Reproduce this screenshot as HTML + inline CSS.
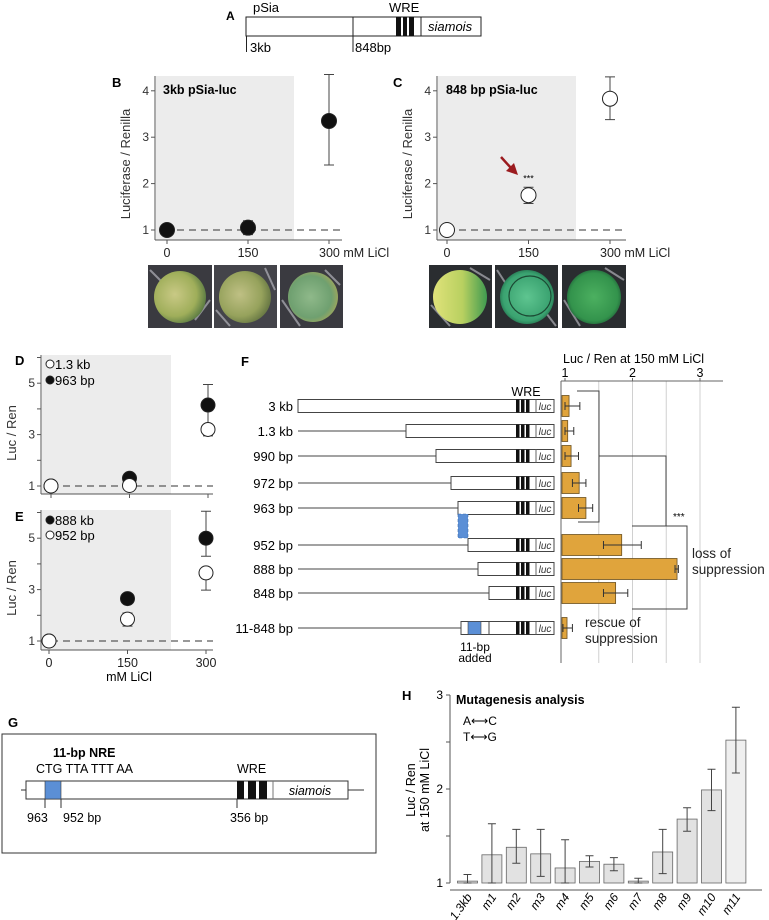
<!DOCTYPE html>
<html><head><meta charset="utf-8">
<style>
html,body{margin:0;padding:0;background:#fff;}
svg{display:block;font-family:"Liberation Sans",sans-serif;}
</style></head>
<body>
<svg id="fig" width="769" height="920" viewBox="0 0 769 920" xmlns="http://www.w3.org/2000/svg">
<defs>
<radialGradient id="eggB1" cx="40%" cy="45%" r="60%"><stop offset="0" stop-color="#c9c985"/><stop offset="0.7" stop-color="#9fae5a"/><stop offset="1" stop-color="#5f7e44"/></radialGradient>
<radialGradient id="eggB2" cx="40%" cy="45%" r="60%"><stop offset="0" stop-color="#bfc084"/><stop offset="0.7" stop-color="#96a25c"/><stop offset="1" stop-color="#6a7a45"/></radialGradient>
<radialGradient id="eggB3" cx="45%" cy="50%" r="60%"><stop offset="0" stop-color="#8fb98a"/><stop offset="0.7" stop-color="#6fa070"/><stop offset="1" stop-color="#a8a858"/></radialGradient>
<linearGradient id="eggC1" x1="0" y1="0" x2="1" y2="0"><stop offset="0" stop-color="#e0e27a"/><stop offset="0.55" stop-color="#b8d060"/><stop offset="1" stop-color="#3f9a50"/></linearGradient>
<radialGradient id="eggC2" cx="50%" cy="50%" r="55%"><stop offset="0" stop-color="#5ec590"/><stop offset="0.8" stop-color="#3aa270"/><stop offset="1" stop-color="#1f6a48"/></radialGradient>
<radialGradient id="eggC3" cx="50%" cy="50%" r="55%"><stop offset="0" stop-color="#4cb060"/><stop offset="0.8" stop-color="#33934c"/><stop offset="1" stop-color="#1f5f38"/></radialGradient>
</defs>

<!-- Panel A -->
<g>
<text x="226" y="20" font-size="12" font-weight="bold">A</text>
<text x="253" y="12" font-size="13">pSia</text>
<text x="389" y="12" font-size="13">WRE</text>
<rect x="246" y="17" width="235" height="19" fill="#fff" stroke="#222" stroke-width="1"/>
<line x1="353" y1="17" x2="353" y2="52" stroke="#222"/>
<line x1="246.5" y1="36" x2="246.5" y2="52" stroke="#222"/>
<rect x="396" y="17" width="5" height="19" fill="#111"/><rect x="403" y="17" width="4" height="19" fill="#111"/><rect x="409" y="17" width="5" height="19" fill="#111"/>
<line x1="421" y1="17" x2="421" y2="36" stroke="#222"/>
<text x="428" y="31" font-size="13" font-style="italic">siamois</text>
<text x="250" y="52" font-size="13">3kb</text>
<text x="355" y="52" font-size="13">848bp</text>
</g>

<text x="112" y="87" font-size="13" font-weight="bold">B</text>
<text x="393" y="87" font-size="13" font-weight="bold">C</text>
<text x="15" y="365" font-size="13" font-weight="bold">D</text>
<text x="15" y="521" font-size="13" font-weight="bold">E</text>
<text x="241" y="366" font-size="13" font-weight="bold">F</text>
<text x="8" y="727" font-size="13" font-weight="bold">G</text>
<text x="402" y="700" font-size="13" font-weight="bold">H</text>

<!-- Photos -->
<g>
<rect x="148" y="265" width="64" height="63" fill="#3a3a40"/>
<rect x="214" y="265" width="63" height="63" fill="#44444a"/>
<rect x="280" y="265" width="63" height="63" fill="#3a3a40"/>
<rect x="429" y="265" width="63" height="63" fill="#2a2d30"/>
<rect x="495" y="265" width="63" height="63" fill="#2a2d30"/>
<rect x="562" y="265" width="64" height="63" fill="#2a2d30"/>
<g stroke="#c8c8d0" stroke-width="2" opacity="0.6">
<line x1="150" y1="270" x2="165" y2="285"/><line x1="195" y1="320" x2="210" y2="300"/><line x1="216" y1="310" x2="230" y2="326"/><line x1="265" y1="268" x2="275" y2="290"/><line x1="282" y1="300" x2="300" y2="326"/><line x1="325" y1="270" x2="340" y2="285"/>
<line x1="431" y1="305" x2="450" y2="326"/><line x1="470" y1="268" x2="490" y2="280"/><line x1="497" y1="270" x2="510" y2="290"/><line x1="540" y1="305" x2="556" y2="326"/><line x1="564" y1="300" x2="580" y2="326"/><line x1="605" y1="268" x2="624" y2="280"/>
</g>
<ellipse cx="180" cy="297" rx="26" ry="26" fill="url(#eggB1)"/>
<ellipse cx="245" cy="297" rx="26" ry="26" fill="url(#eggB2)"/>
<ellipse cx="313" cy="297" rx="25" ry="25" fill="url(#eggB3)"/>
<ellipse cx="460" cy="297" rx="27" ry="27" fill="url(#eggC1)"/>
<ellipse cx="527" cy="297" rx="27" ry="27" fill="url(#eggC2)"/>
<ellipse cx="530" cy="296" rx="21" ry="20" fill="none" stroke="#1c4a34" stroke-width="1.2"/>
<ellipse cx="594" cy="297" rx="27" ry="27" fill="url(#eggC3)"/>
</g>

<text x="563" y="363" font-size="12.5">Luc / Ren at 150 mM LiCl</text>

<!-- Panel G -->
<g>
<rect x="2" y="734" width="374" height="119" fill="#fff" stroke="#333"/>
<text x="53" y="757" font-size="12.5" font-weight="bold">11-bp NRE</text>
<text x="36" y="773" font-size="12.5">CTG TTA TTT AA</text>
<text x="237" y="773" font-size="12.5">WRE</text>
<line x1="21" y1="790" x2="26" y2="790" stroke="#333"/><line x1="348" y1="790" x2="364" y2="790" stroke="#333"/>
<rect x="26" y="781" width="322" height="18" fill="#fff" stroke="#333"/>
<rect x="45" y="781" width="16" height="18" fill="#5b8fd6" stroke="#333" stroke-width="0.6"/>
<rect x="237" y="781" width="7" height="18" fill="#111"/><rect x="248" y="781" width="8" height="18" fill="#111"/><rect x="259" y="781" width="8" height="18" fill="#111"/>
<line x1="273" y1="781" x2="273" y2="799" stroke="#777"/>
<text x="310" y="795" font-size="12.5" font-style="italic" text-anchor="middle">siamois</text>
<line x1="45" y1="799" x2="45" y2="808" stroke="#333"/><line x1="61" y1="799" x2="61" y2="808" stroke="#333"/><line x1="237" y1="799" x2="237" y2="808" stroke="#333"/>
<text x="27" y="822" font-size="12.5">963</text>
<text x="63" y="822" font-size="12.5">952 bp</text>
<text x="230" y="822" font-size="12.5">356 bp</text>
</g>

<g id="dyn"></g>
</svg>

<script>
const doseLevels = [0, 150, 300];
const bMeans = [1.0, 1.05, 3.35];
const bLow   = [1.0, 0.9, 2.4];
const bHigh  = [1.0, 1.2, 4.35];
const cMeans = [1.0, 1.75, 3.83];
const cLow   = [1.0, 1.57, 3.38];
const cHigh  = [1.0, 1.92, 4.3];
const dOpenMeans = [1.0, 1.02, 3.2];
const dOpenLow   = [1.0, 1.02, 2.95];
const dOpenHigh  = [1.0, 1.02, 3.4];
const dFillMeans = [1.0, 1.3, 4.15];
const dFillLow   = [1.0, 1.3, 3.4];
const dFillHigh  = [1.0, 1.3, 4.95];
const eFillMeans = [1.0, 2.65, 5.0];
const eFillLow   = [1.0, 2.65, 4.3];
const eFillHigh  = [1.0, 2.65, 6.05];
const eOpenMeans = [1.0, 1.85, 3.65];
const eOpenLow   = [1.0, 1.58, 2.98];
const eOpenHigh  = [1.0, 2.09, 3.84];
const fLabels = ["3 kb", "1.3 kb", "990 bp", "972 bp", "963 bp", "952 bp", "888 bp", "848 bp", "11-848 bp"];
const fMeans  = [1.06, 1.04, 1.09, 1.21, 1.31, 1.84, 2.66, 1.75, 1.03];
const fLow    = [1.0, 1.0, 1.0, 1.11, 1.2, 1.57, 2.63, 1.57, 0.97];
const fHigh   = [1.22, 1.13, 1.2, 1.31, 1.41, 2.13, 2.68, 1.93, 1.11];
const fTicks  = [1, 2, 3];
const hLabels = ["1.3kb", "m1", "m2", "m3", "m4", "m5", "m6", "m7", "m8", "m9", "m10", "m11"];
const hMeans  = [1.02, 1.3, 1.38, 1.31, 1.16, 1.23, 1.2, 1.02, 1.33, 1.68, 1.99, 2.52];
const hLow    = [1.0, 1.0, 1.21, 1.07, 1.0, 1.17, 1.13, 1.0, 1.1, 1.55, 1.77, 2.17];
const hHigh   = [1.09, 1.63, 1.57, 1.57, 1.46, 1.29, 1.27, 1.05, 1.57, 1.8, 2.21, 2.87];
const hTicks  = [1, 2, 3];

const NS = "http://www.w3.org/2000/svg";
const root = document.getElementById('dyn');
function mk(tag, attrs, parent) {
  const e = document.createElementNS(NS, tag);
  for (const k in attrs) e.setAttribute(k, attrs[k]);
  (parent || root).appendChild(e);
  return e;
}
function txt(x, y, s, size, extra) {
  const t = mk('text', Object.assign({x: x, y: y, 'font-size': size}, extra || {}));
  t.textContent = s;
  return t;
}

function dosePanel(cfg) {
  const g = mk('g', {});
  
  
  const xs = v => cfg.x0 + (v / 150) * cfg.xStep;
  const ys = v => cfg.y1 - (v - 1) * cfg.yUnit;
  const shade = mk('rect', {x: cfg.axisX + 1, y: cfg.top, width: cfg.shadeW, height: cfg.bottom - cfg.top, fill: '#ececec'}, g);
  
  
  const ya = mk('line', {x1: cfg.axisX, y1: cfg.top, x2: cfg.axisX, y2: cfg.bottom, stroke: '#555'}, g);
  
  
  const xa = mk('line', {x1: cfg.axisX, y1: cfg.bottom, x2: cfg.axisEnd, y2: cfg.bottom, stroke: '#555'}, g);
  
  
  cfg.yTicks.forEach(v => {
    mk('line', {x1: cfg.axisX - 4, y1: ys(v), x2: cfg.axisX, y2: ys(v), stroke: '#555'}, g);
    if (cfg.yLabels.indexOf(v) >= 0) {
      const t = txt(cfg.axisX - 6, ys(v) + 4, String(v), 12, {'text-anchor': 'end', fill: '#333'});
      g.appendChild(t);
      
      
    }
  });
  doseLevels.forEach((d, i) => {
    mk('line', {x1: xs(d), y1: cfg.bottom, x2: xs(d), y2: cfg.bottom + 4, stroke: '#555'}, g);
    if (cfg.showXLabels) {
      const s = (i === 2 && cfg.unitSuffix) ? String(d) + ' mM LiCl' : String(d);
      const t = txt(i === 2 && cfg.unitSuffix ? xs(d) - 10 : xs(d), cfg.bottom + 17, s, 12.5, {'text-anchor': i === 2 && cfg.unitSuffix ? 'start' : 'middle', fill: '#222'});
      g.appendChild(t);
      
      
    }
  });
  const base = mk('line', {x1: cfg.axisX + 10, y1: ys(1), x2: cfg.axisEnd, y2: ys(1), stroke: '#333', 'stroke-dasharray': '7,5'}, g);
  
  
  cfg.series.forEach(s => {
    doseLevels.forEach((d, i) => {
      if (s.high[i] - s.low[i] > 0.001) {
        const eb = mk('path', {d: `M${xs(d)-5},${ys(s.high[i])}H${xs(d)+5}M${xs(d)},${ys(s.high[i])}V${ys(s.low[i])}M${xs(d)-5},${ys(s.low[i])}H${xs(d)+5}`, stroke: '#444', fill: 'none'}, g);
        
        
      }
      const c = mk('circle', {cx: xs(d), cy: ys(s.means[i]), r: cfg.r, fill: s.filled ? '#111' : '#fff', stroke: '#222', 'stroke-width': 1}, g);
      
      
    });
  });
  const yl = txt(0, 0, cfg.yTitle, 13, {'text-anchor': 'middle', fill: '#333', transform: `translate(${cfg.yTitleX},${cfg.yTitleY}) rotate(-90)`});
  g.appendChild(yl);
  
  
  return {g: g, xs: xs, ys: ys};
}

const pB = dosePanel({name: 'panel-b-chart', x0: 167, xStep: 81, y1: 230, yUnit: 46.4, axisX: 155, axisEnd: 342, top: 76, bottom: 240, shadeW: 138,
  yTicks: [1, 2, 3, 4], yLabels: [1, 2, 3, 4], showXLabels: true, unitSuffix: true, r: 7.5,
  series: [{name: '3kb', means: bMeans, low: bLow, high: bHigh, filled: true}],
  yTitle: 'Luciferase / Renilla', yTitleX: 130, yTitleY: 164});
const tB = txt(163, 94, '3kb pSia-luc', 12.5, {'font-weight': 'bold'});



const pC = dosePanel({name: 'panel-c-chart', x0: 447, xStep: 81.5, y1: 230, yUnit: 46.4, axisX: 437, axisEnd: 626, top: 76, bottom: 240, shadeW: 138,
  yTicks: [1, 2, 3, 4], yLabels: [1, 2, 3, 4], showXLabels: true, unitSuffix: true, r: 7.5,
  series: [{name: '848bp', means: cMeans, low: cLow, high: cHigh, filled: false}],
  yTitle: 'Luciferase / Renilla', yTitleX: 412, yTitleY: 164});
const tC = txt(446, 94, '848 bp pSia-luc', 12.5, {'font-weight': 'bold'});


const stars = txt(pC.xs(150), pC.ys(cHigh[1]) - 6, '***', 9, {'text-anchor': 'middle'});


const arrow = mk('path', {d: 'M501,157 L511,168', stroke: '#9b1b1f', 'stroke-width': 2.5, fill: 'none'});


const ah = mk('path', {d: 'M518,175 L506,171 L514,163 Z', fill: '#9b1b1f'});



dosePanel({name: 'panel-d-chart', x0: 51, xStep: 78.5, y1: 486, yUnit: 25.7, axisX: 41, axisEnd: 213, top: 355, bottom: 494, shadeW: 129,
  yTicks: [1, 2, 3, 4, 5, 6], yLabels: [1, 3, 5], showXLabels: false, r: 7,
  series: [{name: '963bp', means: dFillMeans, low: dFillLow, high: dFillHigh, filled: true},
           {name: '1.3kb', means: dOpenMeans, low: dOpenLow, high: dOpenHigh, filled: false}],
  yTitle: 'Luc / Ren', yTitleX: 16, yTitleY: 433});
dosePanel({name: 'panel-e-chart', x0: 49, xStep: 78.5, y1: 641, yUnit: 25.7, axisX: 41, axisEnd: 213, top: 510, bottom: 650, shadeW: 129,
  yTicks: [1, 2, 3, 4, 5, 6], yLabels: [1, 3, 5], showXLabels: true, unitSuffix: false, r: 7,
  series: [{name: '888bp', means: eFillMeans, low: eFillLow, high: eFillHigh, filled: true},
           {name: '952bp', means: eOpenMeans, low: eOpenLow, high: eOpenHigh, filled: false}],
  yTitle: 'Luc / Ren', yTitleX: 16, yTitleY: 588});
const eX = txt(129, 681, 'mM LiCl', 12.5, {'text-anchor': 'middle'});



function legend(x, y, filled, label, nm) {
  const c = mk('circle', {cx: x, cy: y, r: 4, fill: filled ? '#111' : '#fff', stroke: '#222'});
  
  
  const t = txt(x + 5, y + 5, label, 13);
  
  
}
legend(50, 364, false, '1.3 kb', 'legend-entry-1-3kb');
legend(50, 380, true, '963 bp', 'legend-entry-963bp');
legend(50, 520, true, '888 kb', 'legend-entry-888kb');
legend(50, 535, false, '952 bp', 'legend-entry-952bp');

// Panel F
const fRowY = [406, 431, 456, 483, 508, 545, 569, 593, 628];
const fBoxLeft = [298, 406, 436, 451, 458, 468, 478, 489, 461];
const fx = v => 565 + (v - 1) * 67.5;
const fAxisLeft = 561;
[1.5, 2, 2.5, 3].forEach(v => {
  const gl = mk('line', {x1: fx(v), y1: 381, x2: fx(v), y2: 663, stroke: '#d0d0d0'});
  
  
});
const fAx = mk('line', {x1: fAxisLeft, y1: 381, x2: 723, y2: 381, stroke: '#666'});


const fAy = mk('line', {x1: fAxisLeft, y1: 381, x2: fAxisLeft, y2: 663, stroke: '#666'});


fTicks.forEach(v => {
  const t = txt(fx(v), 377, String(v), 12.5, {'text-anchor': 'middle'});
  
  
  mk('line', {x1: fx(v), y1: 378, x2: fx(v), y2: 381, stroke: '#666'});
});
const wreF = txt(526, 396, 'WRE', 12.5, {'text-anchor': 'middle'});


fLabels.forEach((lab, i) => {
  const y = fRowY[i];
  const l = txt(293, y + 5, lab, 13, {'text-anchor': 'end'});
  
  
  mk('line', {x1: 298, y1: y, x2: fBoxLeft[i], y2: y, stroke: '#444'});
  const b = mk('rect', {x: fBoxLeft[i], y: y - 6.5, width: 554 - fBoxLeft[i], height: 13, fill: '#fff', stroke: '#444'});
  
  
  mk('rect', {x: 516, y: y - 6.5, width: 3.5, height: 13, fill: '#111'});
  mk('rect', {x: 521, y: y - 6.5, width: 3.5, height: 13, fill: '#111'});
  mk('rect', {x: 526, y: y - 6.5, width: 3.5, height: 13, fill: '#111'});
  mk('line', {x1: 536, y1: y - 6.5, x2: 536, y2: y + 6.5, stroke: '#666'});
  const luc = txt(545, y + 4, 'luc', 10, {'text-anchor': 'middle', 'font-style': 'italic', fill: '#333'});
  
  
  const bar = mk('rect', {x: fAxisLeft + 1, y: y - 10.5, width: fx(fMeans[i]) - fAxisLeft - 1, height: 21, fill: '#e0a43c', stroke: '#6b5020', 'stroke-width': 0.8});
  
  
  const eb = mk('path', {d: `M${fx(fLow[i])},${y-4}V${y+4}M${fx(fLow[i])},${y}H${fx(fHigh[i])}M${fx(fHigh[i])},${y-4}V${y+4}`, stroke: '#333', fill: 'none'});
  
  
});
const blueDel = mk('rect', {x: 458, y: 514, width: 10, height: 24, fill: '#5b8fd6', stroke: '#3a6aaa', 'stroke-dasharray': '3,2', 'stroke-width': 0.6});


const blueIns = mk('rect', {x: 468, y: 621.5, width: 13, height: 13, fill: '#5b8fd6', stroke: '#444', 'stroke-width': 0.6});


mk('line', {x1: 489, y1: 621.5, x2: 489, y2: 634.5, stroke: '#444'});
const add1 = txt(475, 651, '11-bp', 12, {'text-anchor': 'middle'});


const add2 = txt(475, 662, 'added', 12, {'text-anchor': 'middle'});


const br = mk('path', {d: 'M577,391H599V522H578M599,456H666V526M632,526H687V609H632', stroke: '#444', fill: 'none'});


const st = txt(673, 520, '***', 10);


[['loss of', 692, 558], ['suppression', 692, 574], ['rescue of', 585, 627], ['suppression', 585, 643]].forEach(a => {
  const t = txt(a[1], a[2], a[0], 13.5, {fill: '#222'});
  
  
});

// Panel H
const hy = v => 883 - (v - 1) * 94;
const hx = i => 467.5 + i * 24.4;
const hYa = mk('line', {x1: 450, y1: hy(3), x2: 450, y2: hy(1), stroke: '#555'});


const hXa = mk('line', {x1: 450, y1: 890, x2: 762, y2: 890, stroke: '#555'});


[1, 1.5, 2, 2.5, 3].forEach(v => mk('line', {x1: 446, y1: hy(v), x2: 450, y2: hy(v), stroke: '#555'}));
hTicks.forEach(v => {
  const t = txt(443, hy(v) + 4, String(v), 12, {'text-anchor': 'end'});
  
  
});
hLabels.forEach((lab, i) => {
  const x = hx(i);
  const b = mk('rect', {x: x - 10, y: hy(hMeans[i]), width: 20, height: hy(1) - hy(hMeans[i]), fill: i === 11 ? '#efefef' : '#e2e2e2', stroke: '#666', 'stroke-width': 0.8});
  
  
  const eb = mk('path', {d: `M${x-4},${hy(hHigh[i])}H${x+4}M${x},${hy(hHigh[i])}V${hy(hLow[i])}M${x-4},${hy(hLow[i])}H${x+4}`, stroke: '#444', fill: 'none'});
  
  
  const t = txt(0, 0, lab, 12, {'text-anchor': 'end', 'font-style': 'italic', transform: `translate(${x + 5},${897}) rotate(-55)`});
  
  
});
const hT = txt(456, 704, 'Mutagenesis analysis', 12.5, {'font-weight': 'bold'});


const ac = txt(463, 725, 'A\u27F7C', 12);


const tg = txt(463, 741, 'T\u27F7G', 12);


const hy1 = txt(0, 0, 'Luc / Ren', 12.5, {'text-anchor': 'middle', transform: 'translate(415,790) rotate(-90)'});


const hy2 = txt(0, 0, 'at 150 mM LiCl', 12.5, {'text-anchor': 'middle', transform: 'translate(429,790) rotate(-90)'});


</script>
</body></html>
